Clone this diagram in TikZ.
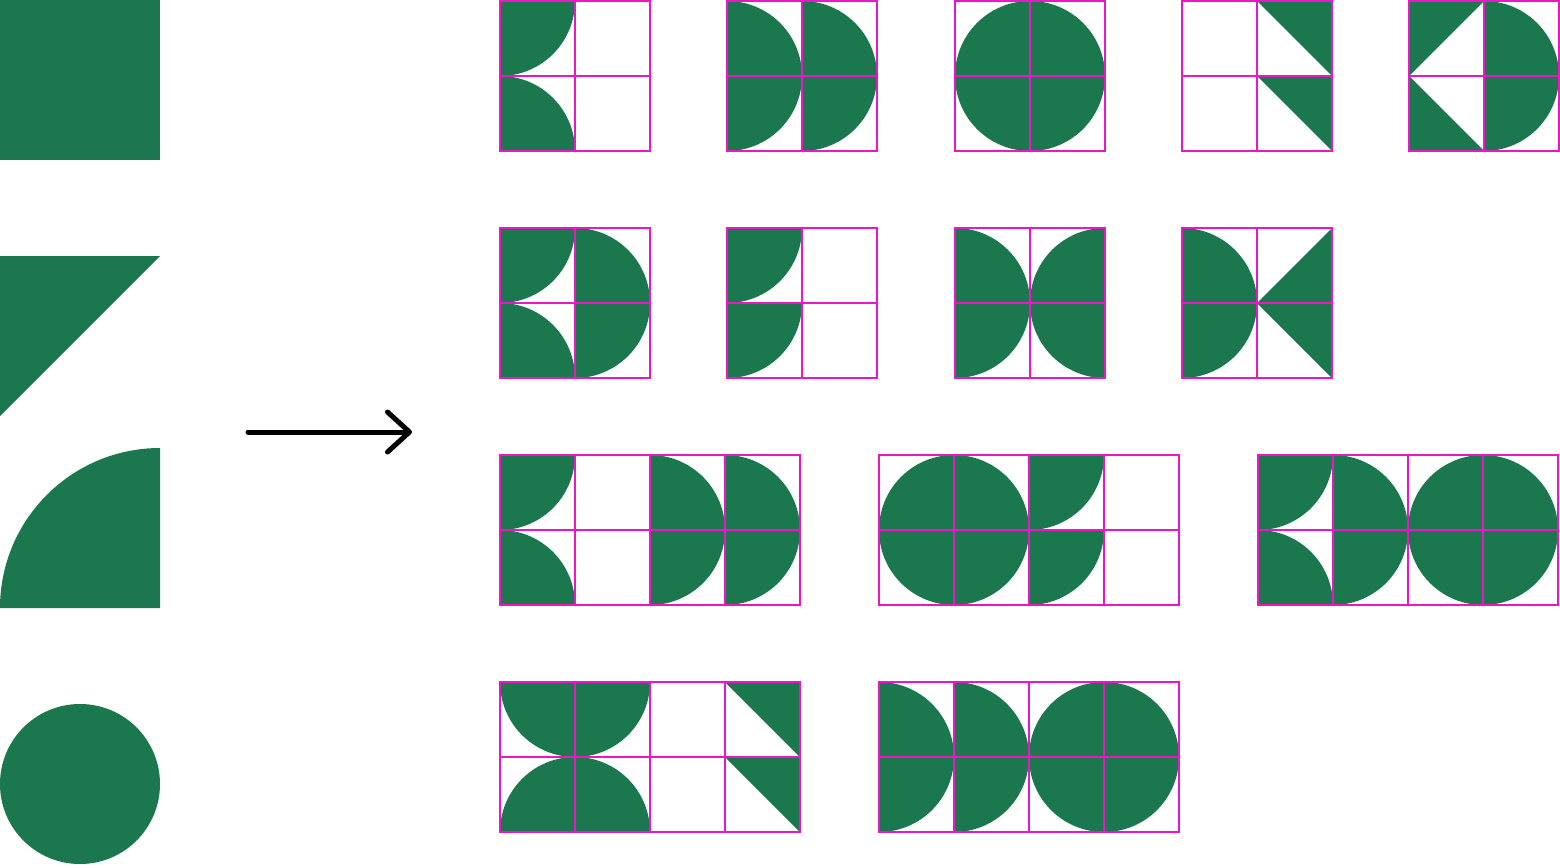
\documentclass[tikz,border=0pt]{standalone}
\usetikzlibrary{arrows.meta}
\definecolor{leafgreen}{RGB}{27,119,77}
\definecolor{gridpink}{RGB}{236,22,196}
% one quarter disc: corner point, start angle
\newcommand{\qtr}[3]{\fill[piece] (#1,#2) -- ++(#3:75) arc[start angle=#3,delta angle=90,radius=75] -- cycle;}
\newcommand{\tri}[6]{\fill[piece] (#1,#2) -- (#3,#4) -- (#5,#6) -- cycle;}
\newcommand{\cells}[2]{\draw[cellframe] (#1,#2) rectangle ++(150,150) (#1+75,#2) -- ++(0,150) (#1,#2+75) -- ++(150,0);}
\newcommand{\pcorner}[2]{\qtr{#1}{#2}{0}\qtr{#1}{#2+150}{270}}
\newcommand{\pdcol}[2]{\qtr{#1}{#2+75}{270}\qtr{#1}{#2+75}{0}}
\newcommand{\pdee}[2]{\pdcol{#1}{#2}\pdcol{#1+75}{#2}}
\newcommand{\pdisc}[2]{\fill[piece] (#1+75,#2+75) circle[radius=75];}
\newcommand{\pstep}[2]{\qtr{#1}{#2}{0}\qtr{#1}{#2+75}{0}}
\newcommand{\pwedge}[2]{\tri{#1+75}{#2}{#1+150}{#2}{#1+150}{#2+75}\tri{#1+75}{#2+75}{#1+150}{#2+75}{#1+150}{#2+150}}
\begin{document}
\begin{tikzpicture}[x=0.5pt,y=-0.5pt,
  piece/.style={fill=leafgreen},
  cellframe/.style={draw=gridpink,line width=1.3pt}]
\useasboundingbox (0,0) rectangle (1560,864);
% the four base pieces
\fill[piece] (0,0) rectangle (160,160);
\fill[piece] (0,256) -- (160,256) -- (0,416) -- cycle;
\fill[piece] (160,608) -- ++(180:160) arc[start angle=180,delta angle=90,radius=160] -- cycle;
\fill[piece] (80,784) circle[radius=80];
\coordinate (tail) at (248,432);
\coordinate (head) at (412,432);
\draw[line width=2.5pt,line cap=round,-{Straight Barb[length=11pt,width=20pt,round]}] (tail) -- (head);
% row 1
\pcorner{500}{1} \cells{500}{1}
\pdee{727}{1} \cells{727}{1}
\pdisc{955}{1} \cells{955}{1}
\pwedge{1182}{1} \cells{1182}{1}
\tri{1409}{1}{1484}{1}{1409}{76}
\tri{1409}{76}{1409}{151}{1484}{151}
\pdcol{1484}{1} \cells{1409}{1}
% row 2
\pcorner{500}{228} \pdcol{575}{228} \cells{500}{228}
\pstep{727}{228} \cells{727}{228}
\pdcol{955}{228} \qtr{1105}{303}{180} \qtr{1105}{303}{90} \cells{955}{228}
\pdcol{1182}{228}
\tri{1257}{303}{1332}{303}{1332}{228}
\tri{1257}{303}{1332}{303}{1332}{378}
\cells{1182}{228}
% row 3
\pcorner{500}{455} \pdee{650}{455} \cells{500}{455} \cells{650}{455}
\pdisc{879}{455} \pstep{1029}{455} \cells{879}{455} \cells{1029}{455}
\pcorner{1258}{455} \pdcol{1333}{455} \pdisc{1408}{455} \cells{1258}{455} \cells{1408}{455}
% row 4
\qtr{575}{682}{90} \qtr{575}{682}{0} \qtr{575}{832}{180} \qtr{575}{832}{270}
\pwedge{650}{682} \cells{500}{682} \cells{650}{682}
\pdee{879}{682} \pdisc{1029}{682} \cells{879}{682} \cells{1029}{682}
\end{tikzpicture}
\end{document}
